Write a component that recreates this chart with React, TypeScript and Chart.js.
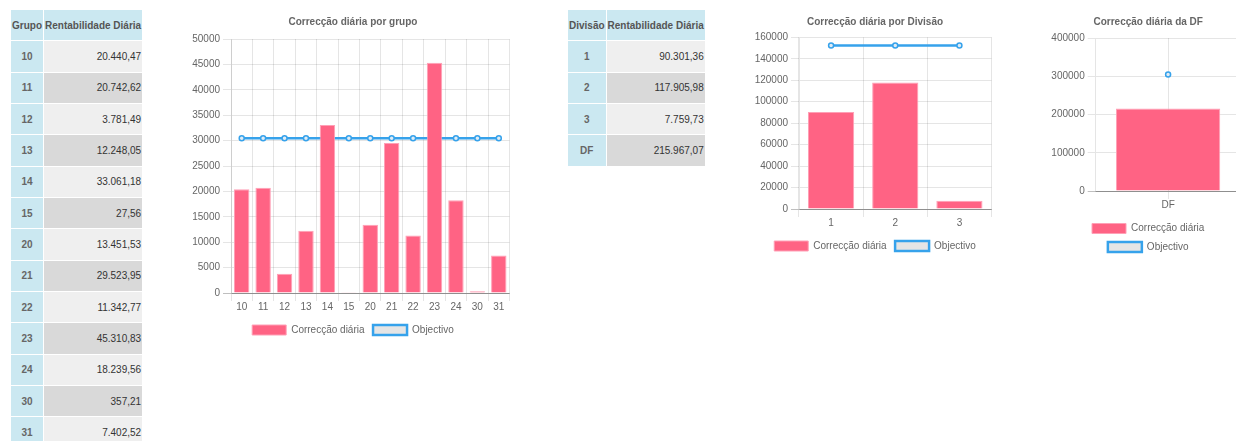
import React, { useEffect, useRef } from 'react';
import { Chart, registerables } from 'chart.js';

Chart.register(...registerables);

const FONT = "'Liberation Sans', Arial, Helvetica, sans-serif";

// ---- data ----
const groupLabels = ['10', '11', '12', '13', '14', '15', '20', '21', '22', '23', '24', '30', '31'];
const groupValues = [20440.47, 20742.62, 3781.49, 12248.05, 33061.18, 27.56, 13451.53, 29523.95, 11342.77, 45310.83, 18239.56, 357.21, 7402.52];
const groupTargets = [30450, 30450, 30450, 30450, 30450, 30450, 30450, 30450, 30450, 30450, 30450, 30450, 30450];
const groupTicks = { max: 50000, step: 5000 };

const divisionLabels = ['1', '2', '3'];
const divisionValues = [90301.36, 117905.98, 7759.73];
const divisionTargets = [152250, 152250, 152250];
const divisionTicks = { max: 160000, step: 20000 };

const dfLabels = ['DF'];
const dfValues = [215967.07];
const dfTargets = [304500];
const dfTicks = { max: 400000, step: 100000 };

const seriesNames = ['Correcção diária', 'Objectivo'];
const table1Header = ['Grupo', 'Rentabilidade Diária'];
const table2Header = ['Divisão', 'Rentabilidade Diária'];
const table2Labels = ['1', '2', '3', 'DF'];
const table2Values = [90301.36, 117905.98, 7759.73, 215967.07];

function fmt(v: number): string {
  const [i, d] = v.toFixed(2).split('.');
  return i.replace(/\B(?=(\d{3})+(?!\d))/g, '.') + ',' + d;
}

type Spec = {
  left: number;
  width: number;
  height: number;
  padL: number;
  padR: number;
  yWidth: number;
  titleBottom: number;
  xHeight: number;
  xGridOffset: boolean;
  title: string;
  labels: string[];
  values: number[];
  targets: number[];
  ticks: { max: number; step: number };
};

function MixedChart(p: Spec) {
  const ref = useRef<HTMLCanvasElement>(null);
  useEffect(() => {
    if (!ref.current) return;
    const tickFont = { family: FONT, size: 10 };
    const chart = new Chart(ref.current, {
      type: 'bar',
      data: {
        labels: p.labels,
        datasets: [
          {
            type: 'bar',
            label: seriesNames[0],
            data: p.values,
            backgroundColor: 'rgb(255, 99, 132)',
            borderColor: 'rgba(255, 160, 182, 1)',
            borderWidth: 1,
          },
          {
            type: 'line',
            label: seriesNames[1],
            data: p.targets,
            borderColor: 'rgb(54, 162, 235)',
            backgroundColor: 'rgba(0, 0, 0, 0.1)',
            borderWidth: 2.5,
            pointRadius: 2.5,
            pointBorderWidth: 1.5,
            pointBackgroundColor: 'rgba(225, 236, 245, 1)',
            fill: false,
            tension: 0,
          },
        ],
      } as any,
      options: {
        responsive: false,
        animation: false,
        devicePixelRatio: 1,
        layout: { padding: { top: 0, bottom: 0, left: p.padL, right: p.padR } },
        plugins: {
          title: {
            display: true,
            text: p.title,
            color: '#666',
            font: { family: FONT, size: 10, weight: 'bold' },
            padding: { top: 16, bottom: p.titleBottom },
          },
          legend: {
            position: 'bottom',
            labels: {
              boxWidth: 34,
              boxHeight: 10,
              padding: 8.5,
              color: '#666',
              font: { family: FONT, size: 10 },
            },
          },
          tooltip: { enabled: false },
        },
        scales: {
          x: {
            grid: { offset: p.xGridOffset, color: 'rgba(0,0,0,0.1)', tickLength: 8 },
            border: { color: 'rgba(0,0,0,0.25)' },
            ticks: { padding: 0, color: '#666', font: tickFont, maxRotation: 0, autoSkip: false },
            afterFit: (s: any) => {
              s.height = p.xHeight;
            },
          },
          y: {
            min: 0,
            max: p.ticks.max,
            ticks: {
              stepSize: p.ticks.step,
              padding: 3,
              color: '#666',
              font: tickFont,
              callback: (v: any) => String(v),
            },
            grid: {
              color: (ctx: any) =>
                ctx.tick && ctx.tick.value === 0 ? 'rgba(0,0,0,0.25)' : 'rgba(0,0,0,0.1)',
              tickLength: 8,
            },
            border: { color: 'rgba(0,0,0,0.1)' },
            afterFit: (s: any) => {
              s.width = p.yWidth;
            },
          },
        },
      } as any,
    });
    return () => chart.destroy();
  }, []);
  return (
    <canvas
      ref={ref}
      width={p.width}
      height={p.height}
      style={{ position: 'absolute', left: p.left, top: 0, width: p.width, height: p.height }}
    />
  );
}

const cellBase: React.CSSProperties = {
  fontFamily: FONT,
  fontSize: 10,
  height: '30.33px',
  padding: '0 1px',
  whiteSpace: 'nowrap',
  verticalAlign: 'middle',
};
const CYAN = '#cbe8f1';

function DataTable(props: { left: number; header: string[]; labels: string[]; values: number[] }) {
  return (
    <table
      style={{
        position: 'absolute',
        left: props.left,
        top: 9,
        borderCollapse: 'separate',
        borderSpacing: 1,
      }}
    >
      <thead>
        <tr>
          {props.header.map((h) => (
            <th key={h} style={{ ...cellBase, background: CYAN, color: '#555', fontWeight: 'bold', textAlign: 'center' }}>
              {h}
            </th>
          ))}
        </tr>
      </thead>
      <tbody>
        {props.labels.map((l, i) => (
          <tr key={l}>
            <td style={{ ...cellBase, background: CYAN, color: '#666', fontWeight: 'bold', textAlign: 'center' }}>{l}</td>
            <td
              style={{
                ...cellBase,
                background: i % 2 === 0 ? '#efefef' : '#d9d9d9',
                color: '#333',
                textAlign: 'right',
              }}
            >
              {fmt(props.values[i])}
            </td>
          </tr>
        ))}
      </tbody>
    </table>
  );
}

export default function App() {
  return (
    <div
      style={{
        position: 'absolute',
        left: 0,
        top: 0,
        width: 1236,
        height: 441,
        overflow: 'hidden',
        background: '#fff',
      }}
    >
      <DataTable left={10} header={table1Header} labels={groupLabels} values={groupValues} />
      <MixedChart
        left={185}
        width={330}
        height={345}
        padL={6.5}
        padR={0.6}
        yWidth={39.5}
        titleBottom={11}
        xHeight={23.5}
        xGridOffset={true}
        title="Correcção diária por grupo"
        labels={groupLabels}
        values={groupValues}
        targets={groupTargets}
        ticks={groupTicks}
      />
      <DataTable left={567} header={table2Header} labels={table2Labels} values={table2Values} />
      <MixedChart
        left={748}
        width={249}
        height={261}
        padL={5}
        padR={0}
        yWidth={46}
        titleBottom={9.3}
        xHeight={23.5}
        xGridOffset={true}
        title="Correcção diária por Divisão"
        labels={divisionLabels}
        values={divisionValues}
        targets={divisionTargets}
        ticks={divisionTicks}
      />
      <MixedChart
        left={1046}
        width={200}
        height={262}
        padL={4.7}
        padR={0.3}
        yWidth={45}
        titleBottom={10}
        xHeight={24}
        xGridOffset={false}
        title="Correcção diária da DF"
        labels={dfLabels}
        values={dfValues}
        targets={dfTargets}
        ticks={dfTicks}
      />
    </div>
  );
}
